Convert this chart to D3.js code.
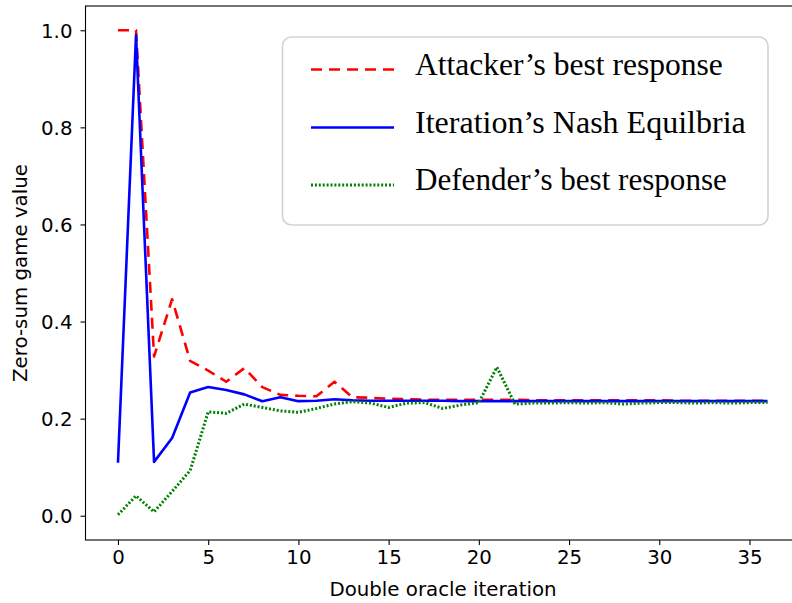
<!DOCTYPE html>
<html><head><meta charset="utf-8">
<script src="https://cdn.jsdelivr.net/npm/d3@7"></script>
<style>body{margin:0;background:#fff}svg{display:block}</style>
</head><body>
<svg id="c" width="792" height="603"></svg>
<script>
const iterations = d3.range(0, 37);
const attacker = [1.0, 1.0, 0.328, 0.446, 0.319, 0.299, 0.276, 0.304, 0.265, 0.249, 0.247, 0.246, 0.276, 0.244, 0.243, 0.241, 0.240, 0.239, 0.239, 0.239, 0.239, 0.239, 0.239, 0.238, 0.238, 0.238, 0.238, 0.238, 0.238, 0.238, 0.238, 0.237, 0.237, 0.237, 0.237, 0.237, 0.237];
const nash = [0.109, 0.99, 0.111, 0.160, 0.254, 0.265, 0.259, 0.250, 0.236, 0.244, 0.236, 0.237, 0.240, 0.238, 0.237, 0.237, 0.237, 0.237, 0.237, 0.236, 0.236, 0.236, 0.236, 0.236, 0.236, 0.236, 0.236, 0.236, 0.236, 0.236, 0.236, 0.236, 0.236, 0.236, 0.236, 0.236, 0.236];
const defender = [0.002, 0.041, 0.008, 0.050, 0.093, 0.214, 0.211, 0.230, 0.223, 0.216, 0.213, 0.221, 0.230, 0.235, 0.232, 0.223, 0.232, 0.233, 0.221, 0.228, 0.233, 0.306, 0.230, 0.232, 0.232, 0.233, 0.232, 0.233, 0.230, 0.232, 0.233, 0.233, 0.232, 0.233, 0.232, 0.233, 0.233];
const xTicks = [0, 5, 10, 15, 20, 25, 30, 35];
const yTicks = [0.0, 0.2, 0.4, 0.6, 0.8, 1.0];
const legendLabels = ["Attacker\u2019s best response", "Iteration\u2019s Nash Equilbria", "Defender\u2019s best response"];

const svg = d3.select("#c");
const L = 85.5, R = 800, T = 6, B = 540;
const x = d3.scaleLinear().domain([-1.8, 37.8]).range([L, R]);
const y = d3.scaleLinear().domain([-0.05, 1.05]).range([B, T]);

const series = [
  {vals: attacker, color: "#ff0000", dash: "11,7", w: 2.6},
  {vals: nash, color: "#0000ff", dash: null, w: 2.6},
  {vals: defender, color: "#008000", dash: "2,1.9", w: 3}
];

const line = d3.line().x((d, i) => x(iterations[i])).y(d => y(d));
series.forEach(s => {
  svg.append("path").attr("d", line(s.vals)).attr("fill", "none")
    .attr("stroke", s.color).attr("stroke-width", s.w)
    .attr("stroke-dasharray", s.dash).attr("stroke-linejoin", "round");
});

const FS = 19.8;
// axes
const xa = svg.append("g").attr("transform", `translate(0,${B})`)
  .call(d3.axisBottom(x).tickValues(xTicks).tickFormat(d3.format("d")).tickSizeOuter(0).tickSize(5).tickPadding(8));
const ya = svg.append("g").attr("transform", `translate(${L},0)`)
  .call(d3.axisLeft(y).tickValues(yTicks).tickFormat(d3.format(".1f")).tickSizeOuter(0).tickSize(5).tickPadding(8));
[xa, ya].forEach(a => {
  a.attr("font-size", null).attr("font-family", null);
  a.select(".domain").remove();
  a.selectAll("text").style("font-family", "DejaVu Sans").style("font-size", FS + "px").attr("fill", "#000");
  a.selectAll("line").attr("stroke", "#000").attr("stroke-width", 1.1);
});
xa.selectAll("text").attr("dy", null).attr("y", 0).attr("transform", "translate(0,23.5)");
ya.selectAll("text").attr("dy", "0.35em");
svg.append("rect").attr("x", L).attr("y", T).attr("width", R - L).attr("height", B - T)
  .attr("fill", "none").attr("stroke", "#000").attr("stroke-width", 1.1);

svg.append("text").attr("x", 443).attr("y", 595.5).attr("text-anchor", "middle")
  .style("font-family", "DejaVu Sans").style("font-size", FS + "px").text("Double oracle iteration");
svg.append("text").attr("transform", `translate(27,${(T + B) / 2}) rotate(-90)`).attr("text-anchor", "middle")
  .style("font-family", "DejaVu Sans").style("font-size", FS + "px").text("Zero-sum game value");

// legend
const lg = svg.append("g");
lg.append("rect").attr("x", 282.5).attr("y", 37).attr("width", 485.5).attr("height", 188)
  .attr("rx", 9).attr("fill", "#fff").attr("fill-opacity", 0.85).attr("stroke", "#d3d3d3").attr("stroke-width", 1.6);
const rowsY = [69.5, 127.5, 185];
const targetW = [308, 331, 312];
series.forEach((s, i) => {
  lg.append("line").attr("x1", 311).attr("x2", 394).attr("y1", rowsY[i]).attr("y2", rowsY[i])
    .attr("stroke", s.color).attr("stroke-width", s.w).attr("stroke-dasharray", s.dash);
  const t = lg.append("text").attr("x", 415).attr("y", rowsY[i] + 5)
    .attr("font-family", "Liberation Serif, serif").attr("font-size", 27).attr("fill", "#000").text(legendLabels[i]);
  const w = t.node().getComputedTextLength();
  t.attr("font-size", 27 * targetW[i] / w);
});
</script>
</body></html>
